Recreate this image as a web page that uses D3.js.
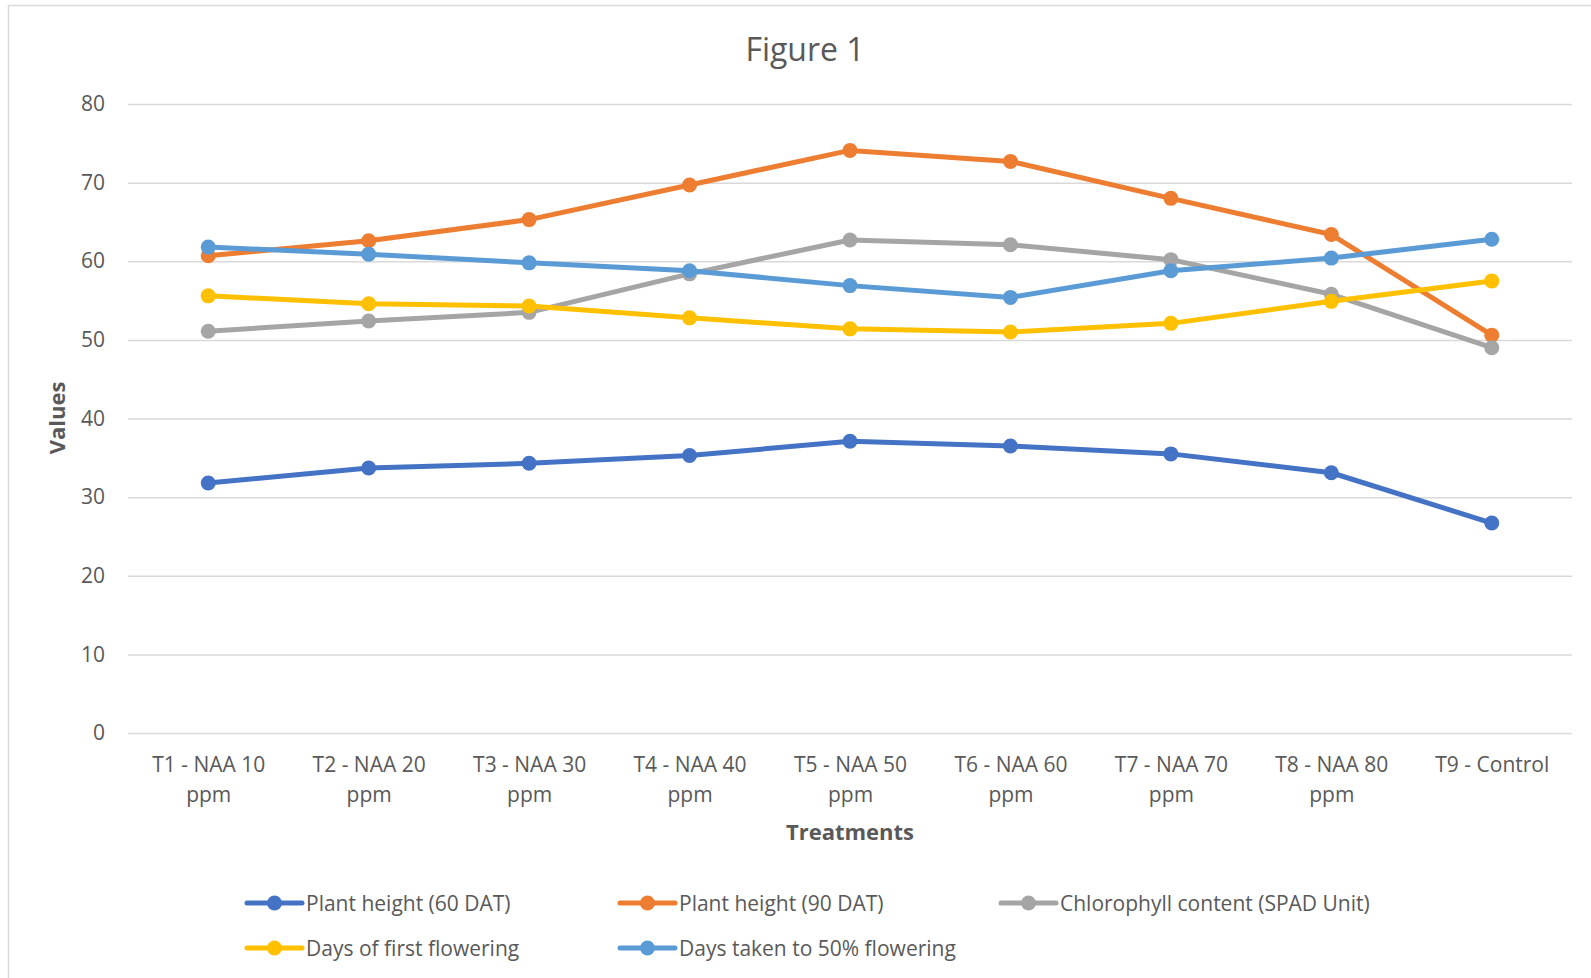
<!DOCTYPE html>
<html>
<head>
<meta charset="utf-8">
<title>Figure 1</title>
<script src="https://d3js.org/d3.v7.min.js"></script>
<style>
  body { margin: 0; background: #fff; }
  text { font-family: "Open Sans", sans-serif; fill: #595959; }
</style>
</head>
<body>
<script>
// data
const treatments = [
  ['T1 - NAA 10', 'ppm'], ['T2 - NAA 20', 'ppm'], ['T3 - NAA 30', 'ppm'],
  ['T4 - NAA 40', 'ppm'], ['T5 - NAA 50', 'ppm'], ['T6 - NAA 60', 'ppm'],
  ['T7 - NAA 70', 'ppm'], ['T8 - NAA 80', 'ppm'], ['T9 - Control']
];
const seriesNames = ['Plant height (60 DAT)', 'Plant height (90 DAT)', 'Chlorophyll content (SPAD Unit)',
  'Days of first flowering', 'Days taken to 50% flowering'];
const height60 = [31.8, 33.7, 34.3, 35.3, 37.1, 36.5, 35.5, 33.1, 26.7];
const height90 = [60.7, 62.6, 65.3, 69.7, 74.1, 72.7, 68.0, 63.4, 50.6];
const chlorophyll = [51.1, 52.4, 53.5, 58.4, 62.7, 62.1, 60.2, 55.8, 49.0];
const firstFlower = [55.6, 54.6, 54.3, 52.8, 51.4, 51.0, 52.1, 54.9, 57.5];
const halfFlower = [61.8, 60.9, 59.8, 58.8, 56.9, 55.4, 58.8, 60.4, 62.8];
const yTicks = [0, 10, 20, 30, 40, 50, 60, 70, 80];
const colors = ['#4472C4', '#ED7D31', '#A5A5A5', '#FFC000', '#5B9BD5'];

const series = [height60, height90, chlorophyll, firstFlower, halfFlower]
  .map((vals, i) => ({name: seriesNames[i], color: colors[i], values: vals}));

const W = 1591, H = 978;
const plotLeft = 128, plotRight = 1572, plotTop = 104, plotBottom = 733;

const svg = d3.select('body').append('svg').attr('width', W).attr('height', H);

svg.append('rect').attr('x', 8.5).attr('y', 5.5).attr('width', 1600).attr('height', 1000)
  .attr('fill', 'none').attr('stroke', '#d9d9d9').attr('stroke-width', 1.5);

const x = d3.scalePoint().domain(d3.range(treatments.length)).range([plotLeft, plotRight]).padding(0.5);
const y = d3.scaleLinear().domain([0, 80]).range([plotBottom, plotTop]);

// gridlines + y labels
const yAxis = svg.append('g').attr('transform', `translate(${plotLeft},0)`)
  .call(d3.axisLeft(y).tickValues(yTicks).tickSize(-(plotRight - plotLeft)).tickPadding(23));
yAxis.select('.domain').remove();
yAxis.selectAll('.tick line').attr('stroke', '#d9d9d9').attr('stroke-width', 1.5);
yAxis.selectAll('.tick text').attr('font-size', 21).attr('fill', '#595959')
  .style('font-family', '"Open Sans", sans-serif');

// x labels
const xAxis = svg.append('g').attr('transform', `translate(0,${plotBottom})`)
  .call(d3.axisBottom(x).tickSize(0).tickFormat(''));
xAxis.select('.domain').remove();
xAxis.selectAll('.tick').each(function(d) {
  const t = d3.select(this).append('text').attr('text-anchor', 'middle')
    .attr('font-size', 21).attr('fill', '#595959');
  treatments[d].forEach((line, k) => {
    t.append('tspan').attr('x', 0).attr('y', 39 + k * 30).text(line);
  });
});

// lines and markers
const line = d3.line().x((d, i) => x(i)).y(d => y(d));
series.forEach(s => {
  const g = svg.append('g');
  g.append('path').datum(s.values).attr('d', line)
    .attr('fill', 'none').attr('stroke', s.color).attr('stroke-width', 5)
    .attr('stroke-linejoin', 'round').attr('stroke-linecap', 'round');
  g.selectAll('circle').data(s.values).join('circle')
    .attr('cx', (d, i) => x(i)).attr('cy', d => y(d)).attr('r', 7.5)
    .attr('fill', s.color);
});

// titles
svg.append('text').attr('x', 805).attr('y', 61).attr('text-anchor', 'middle')
  .attr('font-size', 32).text('Figure 1');
svg.append('text').attr('transform', 'translate(65,418) rotate(-90)')
  .attr('text-anchor', 'middle').attr('font-size', 22).attr('font-weight', 'bold').text('Values');
svg.append('text').attr('x', (plotLeft + plotRight) / 2).attr('y', 840).attr('text-anchor', 'middle')
  .attr('font-size', 22).attr('font-weight', 'bold').text('Treatments');

// legend
const legendPos = [[247, 903], [620, 903], [1001, 903], [247, 948], [620, 948]];
series.forEach((s, i) => {
  const [lx, ly] = legendPos[i];
  const g = svg.append('g').attr('transform', `translate(${lx},${ly})`);
  g.append('line').attr('x1', 0).attr('x2', 55).attr('stroke', s.color)
    .attr('stroke-width', 5).attr('stroke-linecap', 'round');
  g.append('circle').attr('cx', 27.5).attr('r', 7.5).attr('fill', s.color);
  g.append('text').attr('x', 59).attr('y', 7.5).attr('font-size', 21).text(s.name);
});
</script>
</body>
</html>
